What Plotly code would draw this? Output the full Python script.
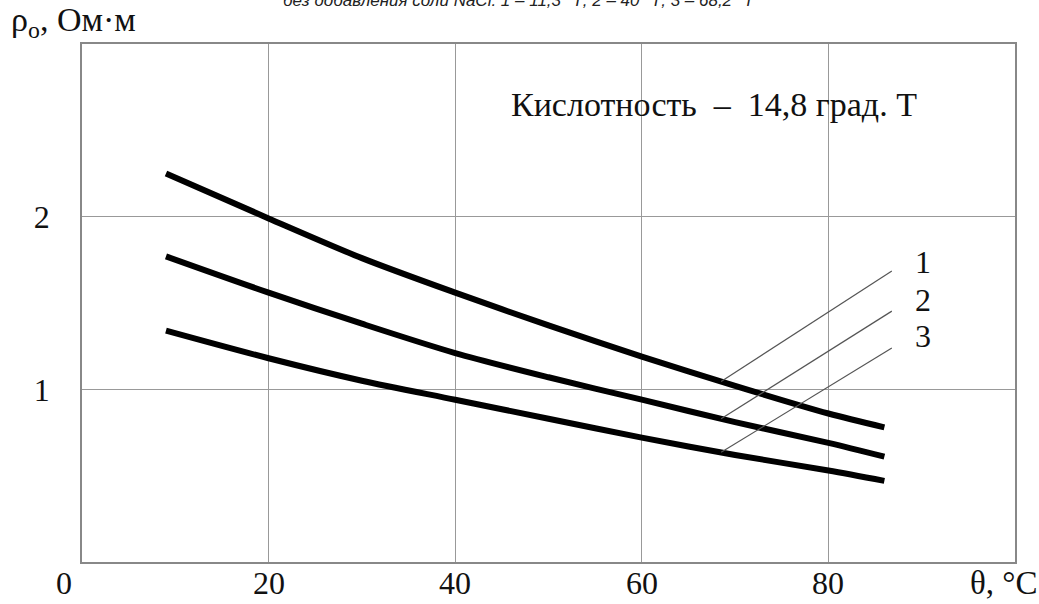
import numpy as np
import plotly.graph_objects as go

# ---- data ----
theta = [9, 20, 30, 40, 50, 60, 70, 80, 86]
rho_1 = [2.25, 1.99, 1.76, 1.56, 1.37, 1.19, 1.02, 0.86, 0.78]
rho_2 = [1.77, 1.56, 1.38, 1.21, 1.07, 0.94, 0.81, 0.69, 0.61]
rho_3 = [1.34, 1.18, 1.05, 0.94, 0.83, 0.72, 0.62, 0.53, 0.47]
curve_names = ["1", "2", "3"]

x_ticks = [20, 40, 60, 80]
y_ticks = [1, 2]

leader_x_start = 68.5
leader_x_end = 86.8
leader_y_end = [1.685, 1.453, 1.239]
label_x = 89.1
label_y = [1.74, 1.52, 1.31]

title_text = "без добавления соли NaCl: 1 – 11,3 °Т; 2 – 40 °Т; 3 – 68,2 °Т"
note_text = "Кислотность  –  14,8 град. Т"
y_title = "ρ<sub>о</sub>, Ом·м"
x_title = "θ, °C"

SERIF = "Liberation Serif"
INK = "#111111"

fig = go.Figure()

for ys in (rho_1, rho_2, rho_3):
    fig.add_trace(go.Scatter(x=theta, y=ys, mode="lines",
                             line=dict(color="black", width=6, shape="spline", smoothing=0.8),
                             showlegend=False, hoverinfo="skip"))

for ys, ye in zip((rho_1, rho_2, rho_3), leader_y_end):
    ys0 = float(np.interp(leader_x_start, theta, ys))
    fig.add_trace(go.Scatter(x=[leader_x_start, leader_x_end], y=[ys0, ye], mode="lines",
                             line=dict(color="#555555", width=1.2),
                             showlegend=False, hoverinfo="skip"))

annotations = []
for name, ly in zip(curve_names, label_y):
    annotations.append(dict(x=label_x, y=ly, xref="x", yref="y", text=name, showarrow=False,
                            xanchor="left", yanchor="middle",
                            font=dict(family=SERIF, size=32, color=INK)))

# x tick labels (placed on the x scale, just below the frame)
for v in [0] + x_ticks:
    annotations.append(dict(x=v, y=0, xref="x", yref="paper", text=str(v), showarrow=False,
                            xanchor="center", yanchor="top", xshift=-18 if v == 0 else 0,
                            yshift=-1, font=dict(family=SERIF, size=32, color=INK)))

annotations.append(dict(x=67.7, y=2.65, xref="x", yref="y", text=note_text, showarrow=False,
                        xanchor="center", yanchor="middle",
                        font=dict(family=SERIF, size=34, color=INK)))
annotations.append(dict(x=0, y=1, xref="paper", yref="paper", text=y_title, showarrow=False,
                        xanchor="left", yanchor="bottom", xshift=-73, yshift=-1,
                        font=dict(family=SERIF, size=34, color=INK)))
annotations.append(dict(x=95, y=0, xref="x", yref="paper", text=x_title, showarrow=False,
                        xanchor="left", yanchor="top", yshift=-1,
                        font=dict(family=SERIF, size=33, color=INK)))
annotations.append(dict(x=0.469, y=1, xref="paper", yref="paper", text="<i>" + title_text + "</i>",
                        showarrow=False, xanchor="center", yanchor="middle", yshift=44,
                        font=dict(family="Liberation Sans", size=17, color="#222222")))

fig.update_layout(
    width=1039, height=604,
    margin=dict(l=82, r=24, t=44, b=42, autoexpand=False),
    paper_bgcolor="white", plot_bgcolor="white",
    showlegend=False,
    annotations=annotations,
    xaxis=dict(range=[0, 100], tickvals=x_ticks, showticklabels=False,
               automargin=False,
               showgrid=True, gridcolor="#999999", gridwidth=1, zeroline=False,
               showline=True, mirror=True, linecolor="#888888", linewidth=1.5,
               ticks=""),
    yaxis=dict(range=[0, 3], tickvals=y_ticks, ticktext=[str(v) for v in y_ticks],
               automargin=False,
               showgrid=True, gridcolor="#999999", gridwidth=1, zeroline=False,
               showline=True, mirror=True, linecolor="#888888", linewidth=1.5,
               ticks="", ticklabelstandoff=24,
               tickfont=dict(family=SERIF, size=32, color=INK)),
)

fig.write_html("out.html", config={"displayModeBar": False},
               post_script="document.body.style.margin='0';document.body.style.overflow='hidden';")
